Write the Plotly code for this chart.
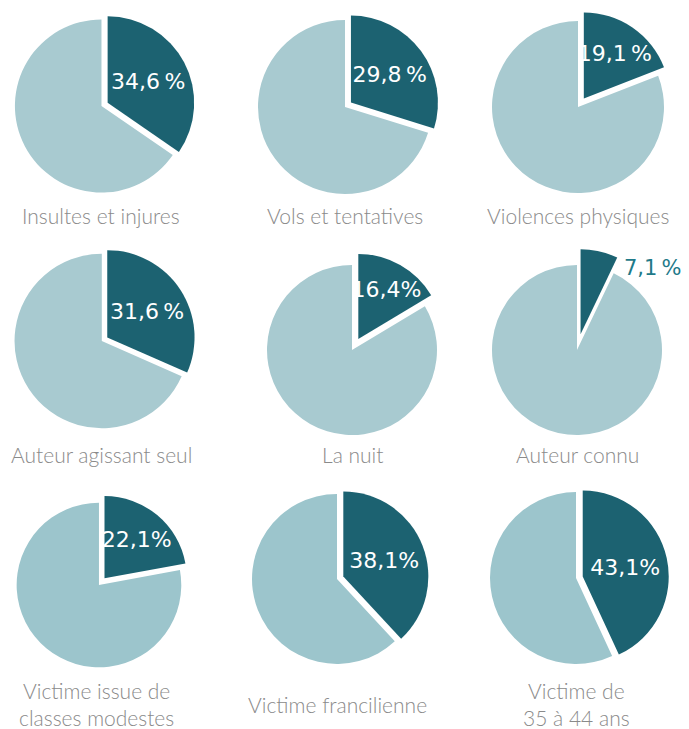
import plotly.graph_objects as go

# ---- data ----
categories = [
    "Insultes et injures", "Vols et tentatives", "Violences physiques",
    "Auteur agissant seul", "La nuit", "Auteur connu",
    "Victime issue de<br>classes modestes", "Victime francilienne", "Victime de<br>35 à 44 ans",
]
shares = [34.6, 29.8, 19.1, 31.6, 16.4, 7.1, 22.1, 38.1, 43.1]
share_labels = ["34,6\u202f%", "29,8\u202f%", "19,1\u202f%", "31,6\u202f%", "16,4%", "7,1\u202f%",
                "22,1%", "38,1%", "43,1%"]
outside_label = [False, False, False, False, False, True, False, False, False]

# ---- layout / style (pixel positions in the 689x729 window) ----
OFF = 8                      # page body margin
W, H = 689 - OFF, 729 - OFF  # figure size that fits the window
centers = [(101, 106), (345, 107), (578, 107),
           (101, 341), (352, 350), (577, 350),
           (96, 585), (337, 579), (576, 578)]
radii = [87, 87, 86, 88, 85, 85, 85, 85, 86]
pulls = [0.08, 0.085, 0.12, 0.075, 0.15, 0.19, 0.105, 0.08, 0.08]
label_y = [215, 215, 215, 455, 455, 455, 704, 704, 704]
dark = "#1c6271"
light_rows = ["#a8cad0", "#a8cad0", "#a8cad0", "#a8cad0", "#a8cad0", "#a8cad0",
              "#9cc5cc", "#9cc5cc", "#9cc5cc"]
outside_pos = (684, 268)   # right edge of the outside label

fig = go.Figure()
annotations = []
for i, (cat, v) in enumerate(zip(categories, shares)):
    cx, cy = centers[i][0] - OFF, centers[i][1] - OFF
    s = radii[i] * (1 + pulls[i])
    inside = not outside_label[i]
    fig.add_trace(go.Pie(
        values=[v, 100 - v],
        labels=["a", "b"],
        text=[share_labels[i] if inside else "", ""],
        textinfo="text",
        textposition=["inside" if inside else "none", "none"],
        insidetextorientation="horizontal",
        insidetextfont=dict(family="DejaVu Sans", size=22, color="white"),
        sort=False,
        direction="clockwise",
        rotation=0,
        pull=[pulls[i], 0],
        marker=dict(colors=[dark, light_rows[i]], line=dict(width=0)),
        hoverinfo="skip",
        showlegend=False,
        domain=dict(x=[max(0, (cx - s) / W), min(1, (cx + s) / W)],
                    y=[max(0, (H - cy - s) / H), min(1, (H - cy + s) / H)]),
    ))
    annotations.append(dict(
        x=cx / W, y=1 - (label_y[i] - OFF) / H, xref="paper", yref="paper",
        text=cat, showarrow=False, xanchor="center", yanchor="middle",
        font=dict(family="Lato", size=21, color="#8a8a8a", weight=300),
    ))
    if not inside:
        annotations.append(dict(
            x=(outside_pos[0] - OFF) / W, y=1 - (outside_pos[1] - OFF) / H,
            xref="paper", yref="paper",
            text=share_labels[i], showarrow=False, xanchor="right", yanchor="middle",
            font=dict(family="DejaVu Sans", size=21, color="#1f7a89"),
        ))

fig.update_layout(
    width=W, height=H,
    margin=dict(l=0, r=0, t=0, b=0),
    paper_bgcolor="white", plot_bgcolor="white",
    uniformtext=dict(minsize=22, mode="show"),
    annotations=annotations,
)

fig.write_html("out.html")
